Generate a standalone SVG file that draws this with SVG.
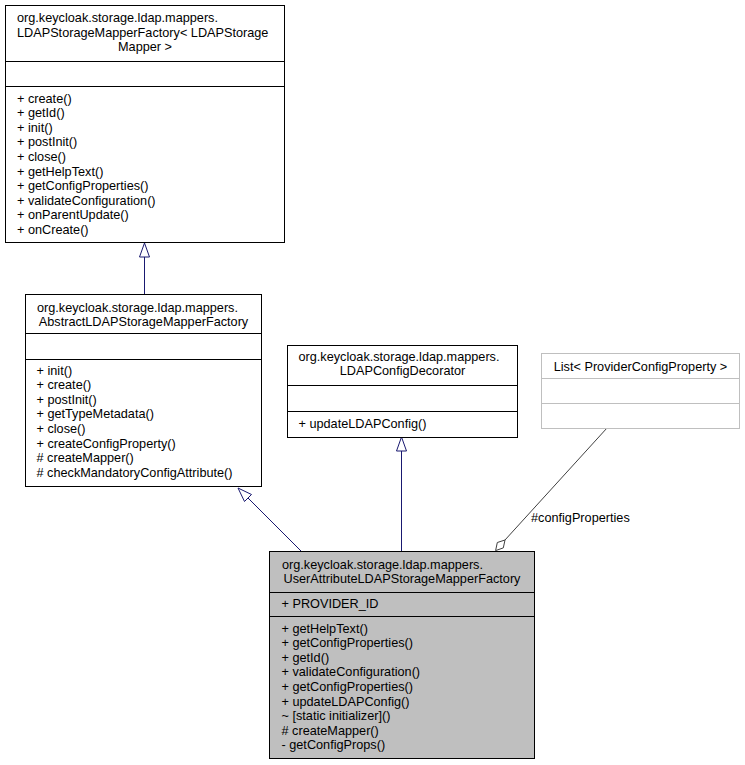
<svg xmlns="http://www.w3.org/2000/svg" width="745" height="765" viewBox="0 0 745 765">
<style>
text{font-family:"Liberation Sans",Arial,sans-serif;font-size:12.7px;fill:#000}
.c{text-anchor:middle}
.box{fill:#fff;stroke:#000;stroke-width:1}
.cur{fill:#bfbfbf;stroke:#000;stroke-width:1}
.ext{fill:#fff;stroke:#bfbfbf;stroke-width:1}
.sep{stroke:#000;stroke-width:1}
.sepg{stroke:#bfbfbf;stroke-width:1}
.inh{stroke:#191970;stroke-width:1;fill:none}
.inhh{stroke:#191970;stroke-width:1;fill:#fff}
.asc{stroke:#404040;stroke-width:1;fill:none}
.asch{stroke:#404040;stroke-width:1;fill:#fff}
</style>
<rect width="745" height="765" fill="#fff"/>
<g id="connectors">
<line class="inh" x1="144.5" y1="294" x2="144.5" y2="256"/>
<polygon class="inhh" points="144.5,243 139.5,257 149.5,257"/>
<line class="inh" x1="301" y1="551" x2="247" y2="497"/>
<polygon class="inhh" points="238,488 244.5,501.5 251.5,494.5"/>
<line class="inh" x1="401.5" y1="551" x2="401.5" y2="450"/>
<polygon class="inhh" points="401.5,437 396.5,451 406.5,451"/>
<line class="asc" x1="607" y1="428" x2="505" y2="540"/>
<polygon class="asch" points="505,540 503.3,547.9 495.6,550.6 497.3,542.5"/>
<text x="531" y="522">#configProperties</text>
</g>
<g id="LDAPStorageMapperFactory">
<rect class="box" x="5.5" y="5.5" width="279" height="237"/>
<line class="sep" x1="5.5" y1="61.5" x2="284.5" y2="61.5"/>
<line class="sep" x1="5.5" y1="86.5" x2="284.5" y2="86.5"/>
<text x="17" y="22">org.keycloak.storage.ldap.mappers.</text>
<text x="17" y="36.5">LDAPStorageMapperFactory&lt; LDAPStorage</text>
<text class="c" x="145" y="51">Mapper &gt;</text>
<text x="17" y="102.5">+ create()</text>
<text x="17" y="117.1">+ getId()</text>
<text x="17" y="131.7">+ init()</text>
<text x="17" y="146.3">+ postInit()</text>
<text x="17" y="160.9">+ close()</text>
<text x="17" y="175.5">+ getHelpText()</text>
<text x="17" y="190.1">+ getConfigProperties()</text>
<text x="17" y="204.7">+ validateConfiguration()</text>
<text x="17" y="219.3">+ onParentUpdate()</text>
<text x="17" y="233.9">+ onCreate()</text>
</g>
<g id="AbstractLDAPStorageMapperFactory">
<rect class="box" x="25.5" y="294.5" width="236" height="192"/>
<line class="sep" x1="25.5" y1="333.5" x2="261.5" y2="333.5"/>
<line class="sep" x1="25.5" y1="359.5" x2="261.5" y2="359.5"/>
<text x="37" y="311.5">org.keycloak.storage.ldap.mappers.</text>
<text class="c" x="143.5" y="326">AbstractLDAPStorageMapperFactory</text>
<text x="36.5" y="374.5">+ init()</text>
<text x="36.5" y="389.1">+ create()</text>
<text x="36.5" y="403.7">+ postInit()</text>
<text x="36.5" y="418.3">+ getTypeMetadata()</text>
<text x="36.5" y="432.9">+ close()</text>
<text x="36.5" y="447.5">+ createConfigProperty()</text>
<text x="36.5" y="462.1"># createMapper()</text>
<text x="36.5" y="476.7"># checkMandatoryConfigAttribute()</text>
</g>
<g id="LDAPConfigDecorator">
<rect class="box" x="287.5" y="345.5" width="230" height="92"/>
<line class="sep" x1="287.5" y1="385.5" x2="517.5" y2="385.5"/>
<line class="sep" x1="287.5" y1="411.5" x2="517.5" y2="411.5"/>
<text x="298.5" y="360.5">org.keycloak.storage.ldap.mappers.</text>
<text class="c" x="402.5" y="375">LDAPConfigDecorator</text>
<text x="298.5" y="427.5">+ updateLDAPConfig()</text>
</g>
<g id="ListProviderConfigProperty">
<rect class="ext" x="541.5" y="353.5" width="198" height="75"/>
<line class="sepg" x1="541.5" y1="378.5" x2="739.5" y2="378.5"/>
<line class="sepg" x1="541.5" y1="403.5" x2="739.5" y2="403.5"/>
<text class="c" x="640.5" y="370.5">List&lt; ProviderConfigProperty &gt;</text>
</g>
<g id="UserAttributeLDAPStorageMapperFactory">
<rect class="cur" x="269.5" y="551.5" width="265" height="207"/>
<line class="sep" x1="269.5" y1="592.5" x2="534.5" y2="592.5"/>
<line class="sep" x1="269.5" y1="616.5" x2="534.5" y2="616.5"/>
<text x="282" y="568.5">org.keycloak.storage.ldap.mappers.</text>
<text class="c" x="402" y="583">UserAttributeLDAPStorageMapperFactory</text>
<text x="281.5" y="607.5">+ PROVIDER_ID</text>
<text x="281.5" y="632.5">+ getHelpText()</text>
<text x="281.5" y="647.1">+ getConfigProperties()</text>
<text x="281.5" y="661.7">+ getId()</text>
<text x="281.5" y="676.3">+ validateConfiguration()</text>
<text x="281.5" y="690.9">+ getConfigProperties()</text>
<text x="281.5" y="705.5">+ updateLDAPConfig()</text>
<text x="281.5" y="720.1">~ [static initializer]()</text>
<text x="281.5" y="734.7"># createMapper()</text>
<text x="281.5" y="749.3">- getConfigProps()</text>
</g>
</svg>
